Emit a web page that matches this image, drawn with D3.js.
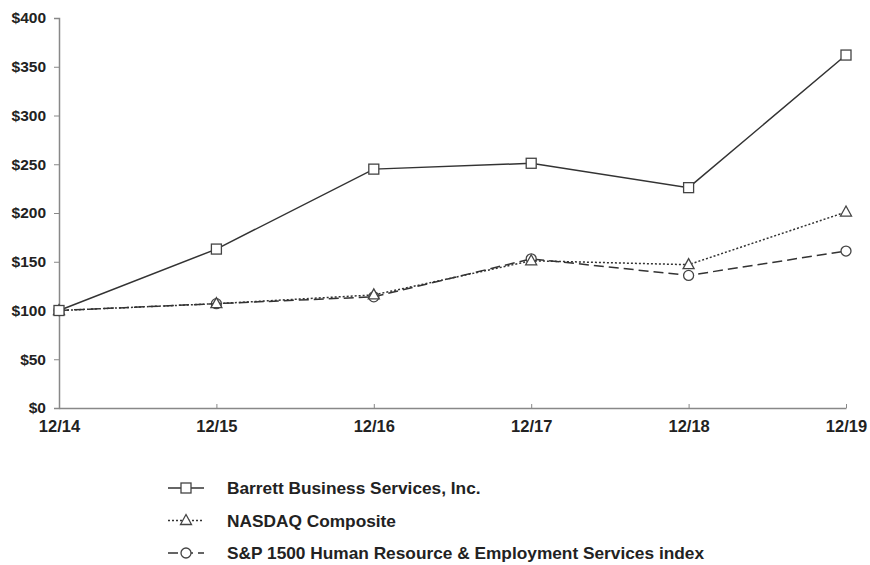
<!DOCTYPE html>
<html>
<head>
<meta charset="utf-8">
<script src="https://cdn.jsdelivr.net/npm/d3@7"></script>
<style>
  body { margin: 0; background: #fff; }
  svg text { font-family: Arial, 'Liberation Sans', sans-serif; font-weight: bold; fill: #222; }
</style>
</head>
<body>
<div id="chart"></div>
<script>
const periods = ['12/14', '12/15', '12/16', '12/17', '12/18', '12/19'];
const barrett = [100, 163, 245, 251, 226, 362];
const nasdaq = [100, 107, 116, 151, 147, 201];
const spHr = [100, 107, 114, 153, 136, 161];
const yTicks = [0, 50, 100, 150, 200, 250, 300, 350, 400];

const seriesList = [
  { name: 'Barrett Business Services, Inc.', values: barrett, dash: null, marker: 'square' },
  { name: 'NASDAQ Composite', values: nasdaq, dash: '2,2', marker: 'triangle' },
  { name: 'S&P 1500 Human Resource & Employment Services index', values: spHr, dash: '10,5', marker: 'circle' }
];

const width = 870;
const height = 565;
const plotLeft = 59, plotRight = 846, plotTop = 18, plotBottom = 408;

const svg = d3.select('#chart')
              .append('svg')
              .attr('width', width)
              .attr('height', height);

const xScale = d3.scalePoint()
                 .domain(periods)
                 .range([plotLeft, plotRight]);

const yScale = d3.scaleLinear()
                 .domain([0, 400])
                 .range([plotBottom, plotTop]);

// y axis
const yAxis = d3.axisLeft(yScale)
                .tickValues(yTicks)
                .tickSize(5)
                .tickPadding(8)
                .tickFormat(d => '$' + d);

const gy = svg.append('g')
              .attr('transform', 'translate(' + plotLeft + ',0)')
              .call(yAxis);
gy.select('.domain').attr('stroke', '#888').attr('stroke-width', 1.5);
gy.selectAll('.tick line').attr('stroke', '#888');
gy.selectAll('.tick text').style('font-size', '15.5px');

// x axis
const xAxis = d3.axisBottom(xScale)
                .tickSize(-4)
                .tickSizeOuter(0)
                .tickPadding(12);

const gx = svg.append('g')
              .attr('transform', 'translate(0,' + plotBottom + ')')
              .call(xAxis);
gx.select('.domain').attr('stroke', '#888').attr('stroke-width', 1.5);
gx.selectAll('.tick line').attr('stroke', '#888');
gx.selectAll('.tick text').style('font-size', '16.5px');

const line = d3.line()
               .x((d, i) => xScale(periods[i]))
               .y(d => yScale(d));

function drawMarker(g, type, x, y) {
  if (type === 'square') {
    g.append('rect')
     .attr('x', x - 5).attr('y', y - 5)
     .attr('width', 10).attr('height', 10)
     .attr('fill', '#fff').attr('stroke', '#444').attr('stroke-width', 1.3);
  } else if (type === 'triangle') {
    g.append('path')
     .attr('d', 'M' + x + ',' + (y - 6) + 'L' + (x + 5.5) + ',' + (y + 4) + 'L' + (x - 5.5) + ',' + (y + 4) + 'Z')
     .attr('fill', '#fff').attr('stroke', '#444').attr('stroke-width', 1.3);
  } else {
    g.append('circle')
     .attr('cx', x).attr('cy', y).attr('r', 5)
     .attr('fill', '#fff').attr('stroke', '#444').attr('stroke-width', 1.3);
  }
}

// draw series back to front so Barrett sits on top
seriesList.slice().reverse().forEach(s => {
  const g = svg.append('g');
  g.append('path')
   .datum(s.values)
   .attr('d', line)
   .attr('fill', 'none')
   .attr('stroke', '#333')
   .attr('stroke-width', 1.5)
   .attr('stroke-dasharray', s.dash);
  s.values.forEach((v, i) => drawMarker(g, s.marker, xScale(periods[i]), yScale(v)));
});

// legend
const legend = svg.append('g').attr('transform', 'translate(168,488)');
seriesList.forEach((s, i) => {
  const row = legend.append('g').attr('transform', 'translate(0,' + (i * 32.5) + ')');
  row.append('line')
     .attr('x1', 0).attr('x2', 36).attr('y1', 0).attr('y2', 0)
     .attr('stroke', '#333').attr('stroke-width', 1.5)
     .attr('stroke-dasharray', s.dash);
  drawMarker(row, s.marker, 18, 0);
  row.append('text')
     .attr('x', 59).attr('y', 0)
     .attr('dy', '0.35em')
     .style('font-size', '17.3px')
     .text(s.name);
});
</script>
</body>
</html>
